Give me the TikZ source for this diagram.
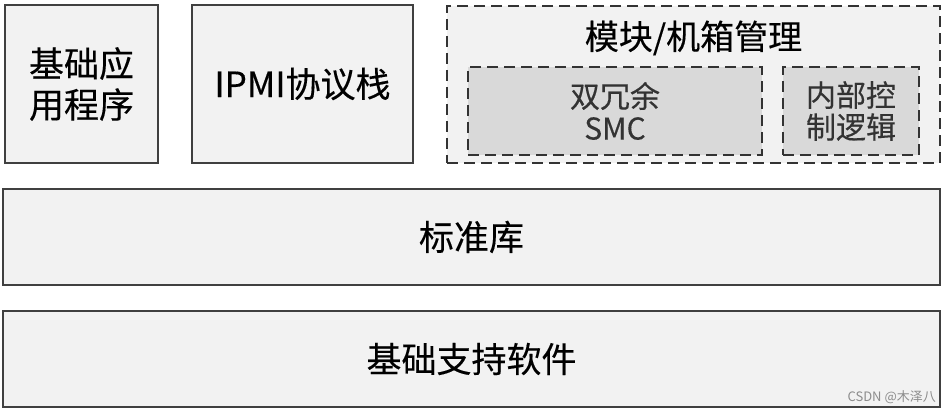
\documentclass[tikz,border=0pt]{standalone}
\usepackage{fontspec}
\newfontfamily\cjk[FakeBold=0.3]{Noto Sans CJK SC}
\newfontfamily\cjkwm{Noto Sans CJK SC}
\definecolor{boxfill}{HTML}{F2F2F2}
\definecolor{innerfill}{HTML}{D9D9D9}
\definecolor{edge}{HTML}{404040}
\begin{document}
\begin{tikzpicture}[x=1pt,y=-1pt,
  box/.style={draw=edge, line width=1.3pt, fill=boxfill, inner sep=0pt, align=center,
    font=\cjk\fontsize{35}{41}\selectfont},
  dbox/.style={box, draw=edge!80!black, line width=1.9pt, dash pattern=on 11pt off 6pt},
  inbox/.style={dbox, fill=innerfill, text=black!80, font=\cjk\fontsize{30}{32}\selectfont},
  plain/.style={inner sep=0pt, align=center}
]
\useasboundingbox[fill=white] (0,0) rectangle (948,414);
\node[box, minimum width=153pt, minimum height=158pt] (app) at (81.5,84) {基础应\\用程序};
\node[box, minimum width=221pt, minimum height=158pt] (ipmi) at (302.5,84) {IPMI协议栈};
\node[dbox, minimum width=493pt, minimum height=157pt] (mod) at (693.5,84.5) {};
\node[plain, font=\cjk\fontsize{34}{36}\selectfont] (modt) at (693.5,38) {模块/机箱管理};
\node[inbox, minimum width=294pt, minimum height=88pt] (smc) at (615,111) {双冗余\\SMC};
\node[inbox, minimum width=136pt, minimum height=88pt] (ctl) at (851,111) {内部控\\制逻辑};
\node[box, minimum width=937pt, minimum height=96pt] (lib) at (471.5,237) {标准库};
\node[box, minimum width=937pt, minimum height=96pt] (base) at (471.5,359) {基础支持软件};
\node[plain, anchor=east, text=black!45, font=\cjkwm\fontsize{13}{15}\selectfont] (wm) at (936,397) {CSDN @木泽八};
\end{tikzpicture}
\end{document}
